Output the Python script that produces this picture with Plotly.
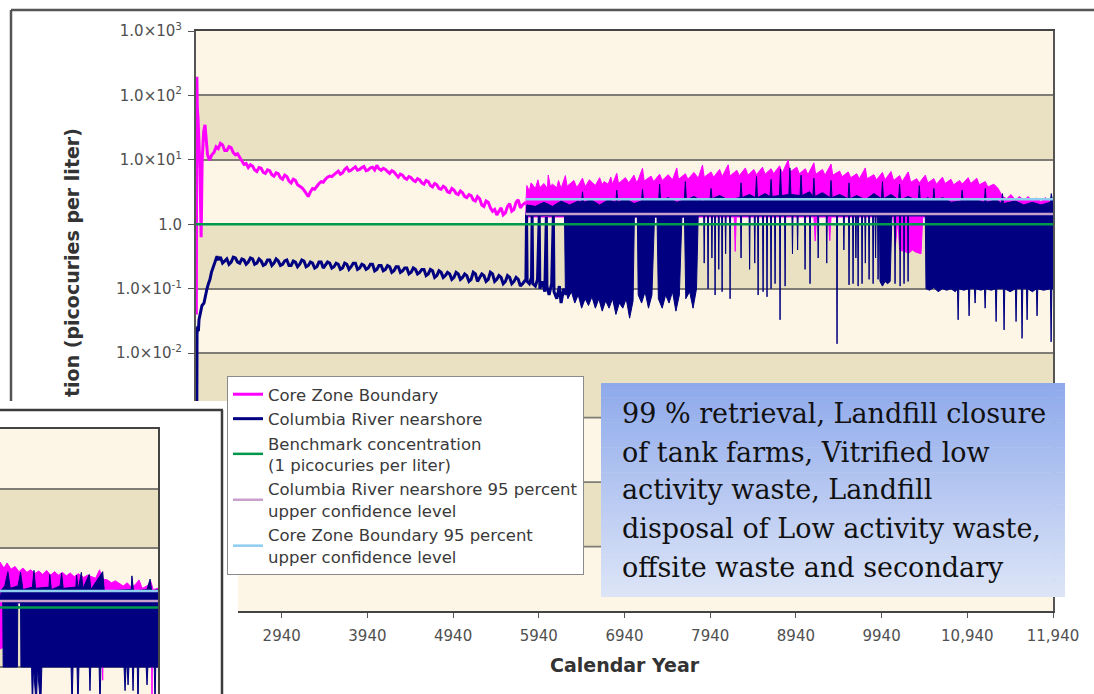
import plotly.graph_objects as go

W, H = 1094, 694

# ---------------- data ----------------
year_ticks = [2940, 3940, 4940, 5940, 6940, 7940, 8940, 9940, 10940, 11940]
year_tick_text = ["2940", "3940", "4940", "5940", "6940", "7940", "8940", "9940", "10,940", "11,940"]
conc_ticks = [1e3, 1e2, 1e1, 1, 1e-1, 1e-2]
conc_tick_text = ["1.0×10<sup>3</sup>", "1.0×10<sup>2</sup>", "1.0×10<sup>1</sup>", "1.0",
                  "1.0×10<sup>-1</sup>", "1.0×10<sup>-2</sup>"]
hidden_decades = [1e-3, 1e-4, 1e-5]

# Core Zone Boundary, years 1940-5790 (year, pCi/L)
core_zone_early = [
    (1944, 0.04), (1950, 195), (1956, 60), (1963, 46), (1972, 25), (1985, 8), (2000, 0.63),
    (2012, 10), (2030, 28), (2045, 35), (2060, 20), (2075, 12), (2090, 10.5),
    (2100, 10), (2125, 12), (2150, 13), (2175, 16), (2200, 15), (2225, 18), (2250, 17),
    (2275, 14), (2300, 14), (2325, 16), (2350, 15.5), (2375, 13), (2400, 12), (2425, 12.5),
    (2450, 11), (2475, 9.5), (2500, 8.5), (2525, 8.8), (2550, 7.6), (2575, 8.4), (2600, 8.0),
    (2625, 7.0), (2650, 6.6), (2675, 7.6), (2700, 7.4), (2725, 6.4), (2750, 6.2), (2775, 7.0),
    (2800, 6.8), (2825, 5.9), (2850, 5.6), (2875, 6.3), (2900, 6.1), (2925, 5.3), (2950, 5.0),
    (2975, 5.8), (3000, 5.5), (3025, 4.7), (3050, 4.4), (3075, 5.0), (3100, 4.8), (3125, 4.1),
    (3150, 3.9), (3175, 3.7), (3200, 3.4), (3225, 3.0), (3250, 2.7), (3275, 3.2), (3300, 3.6),
    (3325, 3.5), (3350, 3.9), (3375, 4.3), (3400, 4.6), (3425, 4.5), (3450, 5.0), (3475, 5.4),
    (3500, 5.6), (3525, 5.5), (3550, 5.9), (3575, 6.4), (3600, 6.7), (3625, 6.0), (3650, 6.3),
    (3675, 7.1), (3700, 7.6), (3725, 6.7), (3750, 6.9), (3775, 7.4), (3800, 7.8), (3825, 6.9),
    (3850, 7.1), (3875, 7.6), (3900, 7.9), (3925, 6.8), (3950, 7.0), (3975, 7.5), (4000, 7.7),
    (4025, 7.0), (4050, 8.2), (4075, 7.3), (4100, 6.9), (4125, 7.4), (4150, 7.1), (4175, 6.6),
    (4200, 6.2), (4225, 6.8), (4250, 6.5), (4275, 5.9), (4300, 5.4), (4325, 6.0), (4350, 5.8),
    (4375, 5.2), (4400, 5.0), (4425, 5.5), (4450, 5.3), (4475, 4.8), (4500, 4.6), (4525, 5.1),
    (4550, 4.9), (4575, 4.4), (4600, 4.2), (4625, 4.8), (4650, 4.6), (4675, 4.0), (4700, 3.8),
    (4725, 4.3), (4750, 4.1), (4775, 3.6), (4800, 3.5), (4825, 3.9), (4850, 3.7), (4875, 3.2),
    (4900, 3.1), (4925, 3.6), (4950, 3.4), (4975, 3.0), (5000, 2.9), (5025, 3.3), (5050, 3.1),
    (5075, 2.7), (5100, 2.6), (5125, 2.9), (5150, 2.8), (5175, 2.4), (5200, 2.3), (5225, 2.7),
    (5250, 2.5), (5275, 2.0), (5300, 1.9), (5325, 2.3), (5350, 2.2), (5375, 1.8), (5400, 1.6),
    (5425, 1.7), (5450, 1.4), (5475, 1.6), (5500, 1.8), (5525, 1.4), (5550, 1.5), (5575, 1.9),
    (5600, 2.1), (5625, 1.6), (5650, 1.7), (5675, 2.2), (5700, 2.4), (5725, 1.8), (5750, 2.0),
    (5790, 2.2),
]

# Core Zone Boundary after 5790: upper and lower edge of the dense band
core_zone_band_top = [
    (5790, 2.2), (5800, 4.0), (5830, 3.3), (5850, 4.4), (5900, 3.6), (5930, 4.9), (5950, 3.7),
    (6000, 4.3), (6040, 3.6), (6050, 5.8), (6075, 3.9), (6100, 4.2), (6150, 3.7), (6170, 4.8),
    (6200, 3.6), (6250, 5.7), (6270, 3.9), (6300, 4.2), (6350, 4.8), (6380, 3.8), (6400, 4.0),
    (6450, 5.2), (6480, 3.9), (6500, 4.2), (6530, 4.9), (6600, 4.0), (6650, 5.3), (6680, 4.1),
    (6700, 4.6), (6750, 4.2), (6780, 5.4), (6800, 4.2), (6850, 6.2), (6870, 4.3), (6900, 4.6),
    (6950, 5.3), (6990, 4.4), (7050, 5.8), (7080, 4.5), (7100, 4.9), (7150, 7.4), (7170, 4.7),
    (7250, 5.6), (7280, 4.6), (7350, 6.0), (7380, 4.8), (7450, 5.9), (7500, 4.9), (7550, 7.5),
    (7570, 5.0), (7650, 6.1), (7680, 5.0), (7750, 6.4), (7800, 5.2), (7850, 8.3), (7870, 5.4),
    (7950, 6.5), (7980, 5.4), (8050, 7.1), (8080, 5.5), (8150, 8.4), (8170, 5.6), (8250, 6.9),
    (8280, 5.7), (8350, 7.5), (8380, 5.8), (8450, 7.1), (8480, 5.9), (8550, 7.7), (8580, 6.0),
    (8650, 7.3), (8680, 6.1), (8750, 8.1), (8780, 6.2), (8850, 10.0), (8870, 6.5),
    (8950, 7.7), (8980, 6.1), (9050, 7.3), (9080, 5.9), (9150, 9.0), (9170, 6.0), (9250, 7.1),
    (9280, 5.8), (9350, 8.6), (9370, 5.8), (9450, 6.7), (9480, 5.5), (9550, 6.5), (9580, 5.3),
    (9650, 6.1), (9680, 5.1), (9750, 7.5), (9770, 5.1), (9850, 5.9), (9880, 4.9), (9950, 6.4),
    (9980, 4.9), (10050, 6.6), (10080, 4.8), (10150, 5.7), (10180, 4.6), (10250, 6.5),
    (10280, 4.5), (10350, 5.1), (10380, 4.4), (10450, 5.8), (10480, 4.4), (10550, 5.1),
    (10580, 4.2), (10650, 5.4), (10680, 4.3), (10750, 5.0), (10780, 4.1), (10850, 4.8),
    (10880, 4.2), (10950, 5.3), (10980, 4.3), (11050, 5.2), (11080, 4.1), (11150, 4.6),
    (11180, 3.8), (11250, 4.2), (11300, 3.6), (11350, 2.7), (11400, 2.5), (11450, 2.9),
    (11500, 2.4), (11550, 2.7), (11600, 2.35), (11650, 2.7), (11700, 2.3), (11750, 2.55),
    (11800, 2.25), (11850, 2.6), (11900, 2.3), (11940, 2.4),
]
core_zone_band_low = [
    (5790, 1.5), (5800, 0.68), (5812, 1.3), (8220, 1.3), (8232, 0.38), (8244, 1.3),
    (9150, 1.3), (9165, 0.55), (9180, 1.3), (9320, 1.3), (9335, 0.56), (9350, 1.3),
    (10080, 1.3), (10100, 0.45), (10130, 1.2), (10150, 0.4), (10200, 0.38), (10260, 0.36),
    (10300, 0.4), (10340, 0.37), (10400, 0.35), (10420, 1.3), (11940, 1.3),
]

# Columbia River nearshore, years 1940-6260
columbia_early = [
    (1941, 5e-7), (1946, 0.017), (1952, 0.02), (1960, 0.026), (1968, 0.022), (1975, 0.033),
    (1985, 0.04), (1998, 0.046), (2010, 0.055), (2033, 0.06), (2050, 0.08), (2068, 0.1),
    (2085, 0.12), (2103, 0.14), (2120, 0.18), (2138, 0.21), (2162, 0.26), (2185, 0.32),
    (2200, 0.28), (2225, 0.31), (2250, 0.25), (2275, 0.27), (2300, 0.29), (2325, 0.24),
    (2350, 0.26), (2375, 0.31), (2400, 0.30), (2425, 0.26), (2450, 0.25), (2475, 0.29),
    (2500, 0.28), (2525, 0.24), (2550, 0.26), (2575, 0.30), (2600, 0.29), (2625, 0.24),
    (2650, 0.25), (2675, 0.29), (2700, 0.27), (2725, 0.23), (2750, 0.24), (2775, 0.28),
    (2800, 0.28), (2825, 0.23), (2850, 0.25), (2875, 0.29), (2900, 0.27), (2925, 0.23),
    (2950, 0.24), (2975, 0.27), (3000, 0.28), (3025, 0.23), (3050, 0.23), (3075, 0.27),
    (3100, 0.26), (3125, 0.22), (3150, 0.24), (3175, 0.28), (3200, 0.27), (3225, 0.22),
    (3250, 0.23), (3275, 0.26), (3300, 0.25), (3325, 0.21), (3350, 0.22), (3375, 0.26),
    (3400, 0.26), (3425, 0.21), (3450, 0.23), (3475, 0.26), (3500, 0.25), (3525, 0.21),
    (3550, 0.22), (3575, 0.25), (3600, 0.24), (3625, 0.20), (3650, 0.21), (3675, 0.25),
    (3700, 0.24), (3725, 0.20), (3750, 0.22), (3775, 0.25), (3800, 0.25), (3825, 0.20),
    (3850, 0.21), (3875, 0.24), (3900, 0.23), (3925, 0.20), (3950, 0.21), (3975, 0.24),
    (4000, 0.24), (4025, 0.19), (4050, 0.20), (4075, 0.23), (4100, 0.23), (4125, 0.19),
    (4150, 0.20), (4175, 0.23), (4200, 0.22), (4225, 0.18), (4250, 0.19), (4275, 0.22),
    (4300, 0.22), (4325, 0.18), (4350, 0.19), (4375, 0.21), (4400, 0.21), (4425, 0.17),
    (4450, 0.18), (4475, 0.21), (4500, 0.20), (4525, 0.17), (4550, 0.18), (4575, 0.20),
    (4600, 0.20), (4625, 0.16), (4650, 0.17), (4675, 0.20), (4700, 0.19), (4725, 0.15),
    (4750, 0.16), (4775, 0.19), (4800, 0.18), (4825, 0.15), (4850, 0.16), (4875, 0.18),
    (4900, 0.17), (4925, 0.14), (4950, 0.15), (4975, 0.18), (5000, 0.17), (5025, 0.14),
    (5050, 0.15), (5075, 0.17), (5100, 0.16), (5125, 0.13), (5150, 0.14), (5175, 0.18),
    (5200, 0.17), (5225, 0.13), (5250, 0.15), (5275, 0.17), (5300, 0.16), (5325, 0.13),
    (5350, 0.14), (5375, 0.18), (5400, 0.17), (5425, 0.13), (5450, 0.14), (5475, 0.16),
    (5500, 0.15), (5525, 0.12), (5550, 0.13), (5575, 0.16), (5600, 0.15), (5625, 0.12),
    (5650, 0.13), (5675, 0.15), (5700, 0.14), (5725, 0.11), (5750, 0.12),
    (5790, 0.14), (5797, 1.4), (5804, 0.13), (5830, 0.12), (5855, 0.15), (5862, 1.35),
    (5869, 0.12), (5900, 0.11), (5925, 0.14), (5945, 1.35), (5952, 0.1), (5980, 0.13),
    (6010, 0.09), (6028, 1.3), (6035, 0.11), (6060, 0.08), (6090, 0.12), (6110, 1.4),
    (6117, 0.09), (6150, 0.07), (6180, 0.11), (6200, 0.06), (6230, 0.1), (6260, 0.08),
]

# Columbia River nearshore after 5790: upper and lower edge of the band of values
columbia_band_top = [
    (5790, 1.4), (5800, 2.0), (5900, 1.9), (6000, 2.2), (6100, 1.9), (6200, 2.3), (6300, 2.0),
    (6400, 2.3), (6438, 2.2), (6450, 3.2), (6462, 2.2), (6550, 2.4), (6650, 2.0), (6750, 2.4),
    (6838, 2.2), (6850, 3.4), (6862, 2.2), (6950, 2.5), (7050, 2.1), (7138, 2.3), (7150, 3.5),
    (7162, 2.3), (7250, 2.5), (7338, 2.3), (7350, 4.2), (7362, 2.3), (7450, 2.6), (7550, 2.2),
    (7638, 2.4), (7650, 4.6), (7662, 2.4), (7750, 2.7), (7850, 2.3), (7938, 2.5), (7950, 3.6),
    (7962, 2.5), (8050, 2.8), (8150, 2.4), (8288, 2.6), (8300, 4.4), (8312, 2.6), (8400, 2.9),
    (8468, 2.6), (8480, 5.5), (8492, 2.6), (8580, 3.0), (8638, 2.7), (8650, 5.0), (8662, 2.7),
    (8748, 2.8), (8760, 7.2), (8772, 2.8), (8858, 2.9), (8870, 7.5), (8882, 2.9), (8988, 2.8),
    (9000, 5.8), (9012, 2.8), (9100, 3.2), (9138, 2.7), (9150, 5.2), (9162, 2.7), (9250, 3.1),
    (9338, 2.6), (9350, 4.8), (9362, 2.6), (9450, 2.9), (9548, 2.5), (9560, 4.4), (9572, 2.5),
    (9650, 2.8), (9750, 2.4), (9850, 3.0), (9938, 2.5), (9950, 4.6), (9962, 2.5), (10050, 2.9),
    (10138, 2.4), (10150, 4.2), (10162, 2.4), (10250, 2.7), (10368, 2.3), (10380, 4.0),
    (10392, 2.3), (10480, 2.6), (10538, 2.3), (10550, 3.6), (10562, 2.3), (10650, 2.6),
    (10750, 2.2), (10868, 2.3), (10880, 3.4), (10892, 2.3), (11000, 2.5), (11138, 2.2),
    (11150, 3.6), (11162, 2.2), (11280, 2.4), (11338, 2.1), (11350, 3.0), (11362, 2.1),
    (11500, 2.3), (11600, 2.0), (11700, 2.2), (11800, 2.0), (11908, 2.2), (11920, 3.0),
    (11932, 2.2), (11940, 2.1),
]
columbia_band_low = [
    (5790, 1.35), (6240, 1.35),
    (6250, 0.1), (6280, 0.07), (6320, 0.09), (6360, 0.06), (6400, 0.08), (6440, 0.05),
    (6480, 0.07), (6520, 0.055), (6560, 0.075), (6600, 0.05), (6640, 0.07), (6680, 0.045),
    (6720, 0.065), (6760, 0.05), (6800, 0.07), (6840, 0.04), (6880, 0.06), (6920, 0.05),
    (6960, 0.07), (7000, 0.035), (7040, 0.065), (7055, 1.3), (7090, 1.3), (7100, 0.08),
    (7140, 0.06), (7180, 0.09), (7220, 0.05), (7260, 0.08), (7290, 1.3), (7320, 1.3),
    (7335, 0.07), (7380, 0.05), (7420, 0.08), (7460, 0.06), (7500, 0.09), (7540, 0.045),
    (7580, 0.08), (7610, 1.3), (7640, 1.3), (7655, 0.07), (7700, 0.09), (7740, 0.05),
    (7780, 0.1), (7800, 1.35),
    (7864, 1.35), (7870, 0.25), (7876, 1.35), (7909, 1.35), (7915, 0.1), (7921, 1.35),
    (7954, 1.35), (7960, 0.3), (7966, 1.35), (7991, 1.35), (7997, 0.08), (8003, 1.35),
    (8034, 1.35), (8040, 0.2), (8046, 1.35), (8073, 1.35), (8079, 0.09), (8085, 1.35),
    (8114, 1.35), (8120, 0.35), (8126, 1.35), (8166, 1.35), (8172, 0.07), (8178, 1.35),
    (8294, 1.35), (8300, 0.3), (8306, 1.35), (8394, 1.35), (8400, 0.2), (8406, 1.35),
    (8454, 1.35), (8460, 0.25), (8466, 1.35), (8493, 1.35), (8499, 0.08), (8505, 1.35),
    (8551, 1.35), (8557, 0.09), (8563, 1.35), (8597, 1.35), (8603, 0.075), (8609, 1.35),
    (8644, 1.35), (8650, 0.1), (8656, 1.35), (8691, 1.35), (8697, 0.12), (8703, 1.35),
    (8749, 1.35), (8755, 0.033), (8761, 1.35), (8808, 1.35), (8814, 0.11), (8820, 1.35),
    (8894, 1.35), (8900, 0.35), (8906, 1.35), (8954, 1.35), (8960, 0.4), (8966, 1.35),
    (9041, 1.35), (9047, 0.2), (9053, 1.35), (9099, 1.35), (9105, 0.12), (9111, 1.35),
    (9194, 1.35), (9200, 0.3), (9206, 1.35), (9294, 1.35), (9300, 0.25), (9306, 1.35),
    (9414, 1.35), (9420, 0.014), (9426, 1.35), (9494, 1.35), (9500, 0.4), (9506, 1.35),
    (9554, 1.35), (9560, 0.115), (9566, 1.35), (9601, 1.35), (9607, 0.12), (9613, 1.35),
    (9634, 1.35), (9640, 0.3), (9646, 1.35), (9660, 1.35), (9666, 0.11), (9672, 1.35),
    (9706, 1.35), (9712, 0.12), (9718, 1.35), (9744, 1.35), (9750, 0.25), (9756, 1.35),
    (9788, 1.35), (9794, 0.14), (9800, 1.35), (9835, 1.35), (9841, 0.12), (9847, 1.35),
    (9864, 1.35), (9870, 0.3), (9876, 1.35), (9893, 1.35), (9899, 0.14), (9905, 1.35),
    (9915, 1.35), (9921, 0.13), (9950, 0.11), (9980, 0.13), (10010, 0.12), (10040, 0.13),
    (10060, 1.35), (10091, 1.35), (10097, 0.12), (10103, 1.35), (10150, 1.35), (10156, 0.11),
    (10162, 1.35), (10196, 1.35), (10202, 0.12), (10208, 1.35), (10243, 1.35), (10249, 0.13),
    (10255, 1.35), (10450, 1.35),
    (10458, 0.1), (10500, 0.095), (10550, 0.105), (10600, 0.09), (10650, 0.1), (10700, 0.095),
    (10750, 0.1), (10800, 0.09), (10825, 0.1), (10833, 0.033), (10841, 0.1), (10900, 0.095),
    (10953, 0.1), (10961, 0.038), (10969, 0.1), (11023, 0.1), (11031, 0.06), (11039, 0.1),
    (11100, 0.095), (11140, 0.1), (11148, 0.05), (11156, 0.1), (11220, 0.095), (11268, 0.1),
    (11276, 0.031), (11284, 0.1), (11361, 0.1), (11369, 0.023), (11377, 0.1), (11440, 0.09),
    (11501, 0.1), (11509, 0.031), (11517, 0.1), (11571, 0.1), (11579, 0.017), (11587, 0.1),
    (11630, 0.1), (11638, 0.033), (11646, 0.1), (11700, 0.09), (11746, 0.1), (11754, 0.038),
    (11762, 0.1), (11830, 0.095), (11910, 0.1), (11918, 0.015), (11926, 0.1), (11940, 0.1),
]

benchmark_years = [1940, 11940]
benchmark_vals = [1.0, 1.0]
ucl_years = [5790, 11940]
columbia_ucl_vals = [1.45, 1.45]
core_zone_ucl_vals = [2.45, 2.45]

# ---- inset chart (right end of a second scenario) ----
inset_years = [9940, 11940]
inset_core_top = [
    (9940, 5.8), (9990, 4.6), (10030, 5.6), (10080, 4.4), (10130, 4.9), (10180, 4.0),
    (10230, 4.6), (10280, 3.9), (10330, 4.3), (10380, 3.7), (10430, 4.1), (10480, 3.6),
    (10530, 4.2), (10580, 3.5), (10630, 4.0), (10680, 3.5), (10730, 3.9), (10780, 3.4),
    (10830, 3.8), (10880, 3.3), (10930, 3.7), (11000, 3.2), (11050, 3.5), (11100, 3.3),
    (11150, 3.1), (11200, 4.3), (11240, 3.0), (11300, 2.9), (11350, 2.6), (11400, 2.8),
    (11450, 2.5), (11500, 2.3), (11550, 2.6), (11600, 2.2), (11650, 2.4), (11700, 2.9),
    (11740, 2.1), (11800, 2.3), (11850, 2.7), (11880, 2.0), (11940, 2.1),
]
inset_core_low = [
    (9940, 0.2), (10000, 0.22), (10010, 1.2), (10100, 1.2), (10105, 0.21), (10112, 1.2),
    (10400, 1.2), (10408, 0.1), (10416, 1.2), (10530, 1.2), (10535, 0.3), (10542, 1.2),
    (10605, 1.2), (10611, 0.2), (10618, 1.2), (11225, 1.2), (11240, 0.06), (11255, 1.2),
    (11855, 1.2), (11864, 0.02), (11873, 1.2), (11940, 1.2),
]
inset_columbia_top = [
    (9940, 1.4), (9960, 2.0), (10000, 2.3), (10040, 4.0), (10070, 2.1), (10168, 2.3),
    (10200, 3.9), (10230, 2.0), (10350, 2.2), (10370, 4.2), (10390, 2.1), (10560, 2.2),
    (10570, 3.6), (10590, 2.0), (10700, 2.3), (10720, 3.8), (10740, 2.1), (10900, 2.2),
    (10910, 3.5), (10930, 2.0), (10970, 3.9), (10990, 2.1), (11070, 3.6), (11090, 2.0),
    (11240, 4.0), (11260, 1.9), (11600, 2.0), (11610, 3.4), (11630, 1.9), (11800, 2.0),
    (11840, 3.0), (11860, 1.9), (11940, 2.0),
]
inset_columbia_low = [
    (9940, 1.3), (9975, 1.3), (9980, 0.1), (10160, 0.1), (10165, 1.2), (10200, 1.2),
    (10205, 0.1), (10340, 0.1), (10350, 0.02), (10365, 0.1), (10400, 0.02), (10415, 0.1),
    (10455, 0.02), (10470, 0.1), (10840, 0.1), (10852, 0.02), (10864, 0.1), (10915, 0.1),
    (10927, 0.02), (10939, 0.1), (11070, 0.1), (11079, 0.04), (11088, 0.1), (11195, 0.1),
    (11206, 0.02), (11217, 0.1), (11510, 0.1), (11523, 0.04), (11536, 0.1), (11550, 0.1),
    (11561, 0.05), (11572, 0.1), (11615, 0.1), (11624, 0.04), (11633, 0.1), (11678, 0.1),
    (11687, 0.02), (11696, 0.1), (11790, 0.1), (11801, 0.05), (11812, 0.1), (11893, 0.1),
    (11902, 0.02), (11911, 0.1), (11940, 0.1),
]
inset_benchmark_vals = [1.0, 1.0]
inset_columbia_ucl_vals = [1.29, 1.29]
inset_core_ucl_vals = [1.89, 1.89]

box_lines = [
    "99 % retrieval, Landfill closure",
    "of tank farms, Vitrified low",
    "activity waste, Landfill",
    "disposal of Low activity waste,",
    "offsite waste and secondary",
]

# ---------------- styles ----------------
MAGENTA = "#FF00FF"
NAVY = "#000080"
GREEN = "#00994C"
LILAC = "#C8A0CC"
SKY = "#8ECDF0"
CREAM = "#FDF6E6"
TAN = "#EAE0C2"
GRID = "#7E7C74"
SANS = "DejaVu Sans"


def xs(pts):
    return [p[0] for p in pts]


def ys(pts):
    return [p[1] for p in pts]


def band(top, low):
    pts = list(top) + list(reversed(low))
    pts.append(top[0])
    return xs(pts), ys(pts)


fig = go.Figure()

# main chart
fig.add_trace(go.Scatter(x=xs(core_zone_early), y=ys(core_zone_early), mode="lines",
                         name="Core Zone Boundary", legendgroup="cz",
                         line=dict(color=MAGENTA, width=3)))
bx, by = band(core_zone_band_top, core_zone_band_low)
fig.add_trace(go.Scatter(x=bx, y=by, mode="lines", fill="toself", fillcolor=MAGENTA,
                         line=dict(color=MAGENTA, width=1), showlegend=False, legendgroup="cz"))
fig.add_trace(go.Scatter(x=xs(columbia_early), y=ys(columbia_early), mode="lines",
                         name="Columbia River nearshore", legendgroup="cr",
                         line=dict(color=NAVY, width=3)))
bx, by = band(columbia_band_top, columbia_band_low)
fig.add_trace(go.Scatter(x=bx, y=by, mode="lines", fill="toself", fillcolor=NAVY,
                         line=dict(color=NAVY, width=1), showlegend=False, legendgroup="cr"))
fig.add_trace(go.Scatter(x=benchmark_years, y=benchmark_vals, mode="lines",
                         name="Benchmark concentration<br>(1 picocuries per liter)",
                         line=dict(color=GREEN, width=2.5)))
fig.add_trace(go.Scatter(x=ucl_years, y=columbia_ucl_vals, mode="lines",
                         name="Columbia River nearshore 95 percent<br>upper confidence level",
                         line=dict(color=LILAC, width=2.5)))
fig.add_trace(go.Scatter(x=ucl_years, y=core_zone_ucl_vals, mode="lines",
                         name="Core Zone Boundary 95 percent<br>upper confidence level",
                         line=dict(color=SKY, width=2.5)))

# frame of the pasted inset (empty subplot whose white background covers the main chart)
fig.add_trace(go.Scatter(x=[], y=[], xaxis="x2", yaxis="y2", showlegend=False))

# inset chart
bx, by = band(inset_core_top, inset_core_low)
fig.add_trace(go.Scatter(x=bx, y=by, xaxis="x3", yaxis="y3", mode="lines", fill="toself",
                         fillcolor=MAGENTA, line=dict(color=MAGENTA, width=1), showlegend=False))
bx, by = band(inset_columbia_top, inset_columbia_low)
fig.add_trace(go.Scatter(x=bx, y=by, xaxis="x3", yaxis="y3", mode="lines", fill="toself",
                         fillcolor=NAVY, line=dict(color=NAVY, width=1), showlegend=False))
fig.add_trace(go.Scatter(x=inset_years, y=inset_benchmark_vals, xaxis="x3", yaxis="y3",
                         mode="lines", line=dict(color=GREEN, width=2.5), showlegend=False))
fig.add_trace(go.Scatter(x=inset_years, y=inset_columbia_ucl_vals, xaxis="x3", yaxis="y3",
                         mode="lines", line=dict(color=LILAC, width=2.5), showlegend=False))
fig.add_trace(go.Scatter(x=inset_years, y=inset_core_ucl_vals, xaxis="x3", yaxis="y3",
                         mode="lines", line=dict(color=SKY, width=2.5), showlegend=False))

shapes = []
# background bands, main chart
shapes.append(dict(type="rect", xref="x", yref="y", x0=1900, x1=12000, y0=1e-7, y1=1e4,
                   fillcolor=CREAM, line=dict(width=0), layer="below"))
for lo, hi in [(1e1, 1e2), (1e-1, 1), (1e-3, 1e-2), (1e-5, 1e-4)]:
    shapes.append(dict(type="rect", xref="x", yref="y", x0=1900, x1=12000, y0=lo, y1=hi,
                       fillcolor=TAN, line=dict(width=0), layer="below"))
for d in hidden_decades:
    shapes.append(dict(type="line", xref="x", yref="y", x0=1900, x1=12000, y0=d, y1=d,
                       line=dict(color=GRID, width=1.8), layer="below"))
# background bands, inset
shapes.append(dict(type="rect", xref="x3", yref="y3", x0=9000, x1=12500, y0=1e-3, y1=1e4,
                   fillcolor=CREAM, line=dict(width=0), layer="below"))
for lo, hi in [(1e1, 1e2), (1e-1, 1)]:
    shapes.append(dict(type="rect", xref="x3", yref="y3", x0=9000, x1=12500, y0=lo, y1=hi,
                       fillcolor=TAN, line=dict(width=0), layer="below"))


def px(x):
    return x / W


def py(y):
    return 1 - y / H


# slide frame lines
shapes.append(dict(type="line", xref="paper", yref="paper", x0=px(11), x1=px(1094),
                   y0=py(10), y1=py(10), line=dict(color="#555555", width=2.5), layer="above"))
shapes.append(dict(type="line", xref="paper", yref="paper", x0=px(11), x1=px(11),
                   y0=py(10), y1=py(401), line=dict(color="#555555", width=2.5), layer="above"))
# inset frame
shapes.append(dict(type="line", xref="paper", yref="paper", x0=px(0), x1=px(223),
                   y0=py(410), y1=py(410), line=dict(color="#3c3c3c", width=2.5), layer="above"))
shapes.append(dict(type="line", xref="paper", yref="paper", x0=px(222), x1=px(222),
                   y0=py(410), y1=py(694), line=dict(color="#3c3c3c", width=2.5), layer="above"))

# gradient text box
top_c = (142, 169, 235)
bot_c = (221, 229, 247)
n = 60
bx0, bx1, by0, by1 = 601, 1065, 383, 597
for i in range(n):
    t = (i + 0.5) / n
    c = tuple(round(top_c[k] + (bot_c[k] - top_c[k]) * t) for k in range(3))
    ya = by0 + (by1 - by0) * i / n
    yb = min(by1, by0 + (by1 - by0) * (i + 1) / n + 0.6)
    shapes.append(dict(type="rect", xref="paper", yref="paper", x0=px(bx0), x1=px(bx1),
                       y0=py(yb), y1=py(ya), fillcolor="rgb(%d,%d,%d)" % c,
                       line=dict(width=0), layer="above"))

annotations = []
line_centres = [413, 452, 490, 528, 567]
for txt, yc in zip(box_lines, line_centres):
    annotations.append(dict(text=txt, xref="paper", yref="paper", x=px(620), y=py(yc),
                            xanchor="left", yanchor="middle", showarrow=False,
                            font=dict(family="DejaVu Serif", size=27, color="#111111")))
annotations.append(dict(text="<b>Calendar Year</b>", xref="paper", yref="paper",
                        x=px(625), y=py(665), xanchor="center", yanchor="middle",
                        showarrow=False, font=dict(family=SANS, size=19, color="#333333")))
annotations.append(dict(text="<b>tion (picocuries per liter)</b>", xref="paper", yref="paper",
                        x=px(72), y=py(263), xanchor="center", yanchor="middle",
                        textangle=-90, showarrow=False,
                        font=dict(family=SANS, size=19, color="#333333")))

fig.update_layout(
    width=W, height=H, margin=dict(l=0, r=0, t=0, b=0, pad=0), autosize=False,
    paper_bgcolor="white", plot_bgcolor="white",
    showlegend=True,
    legend=dict(x=px(227), y=py(376), xanchor="left", yanchor="top",
                bgcolor="white", bordercolor="#8a8a8a", borderwidth=1,
                font=dict(family=SANS, size=16.5, color="#3a3a3a"),
                itemwidth=30, traceorder="normal", tracegroupgap=4),
    xaxis=dict(domain=[px(196), px(1053)], range=[1940, 11940], automargin=False,
               tickvals=year_ticks, ticktext=year_tick_text,
               ticks="outside", ticklen=5, tickwidth=1, tickcolor="#555555",
               ticklabelstandoff=5,
               tickfont=dict(family=SANS, size=15, color="#505050"),
               showline=True, linecolor="#444444", linewidth=2, mirror=True,
               showgrid=False, zeroline=False, anchor="y"),
    yaxis=dict(type="log", domain=[py(611), py(31)], range=[-6, 3], automargin=False,
               tickvals=conc_ticks, ticktext=conc_tick_text,
               ticks="outside", ticklen=6, tickwidth=1, tickcolor="#555555",
               ticklabelstandoff=3,
               tickfont=dict(family=SANS, size=15, color="#505050"),
               showline=True, linecolor="#555555", linewidth=2, mirror=True,
               showgrid=True, gridcolor=GRID, gridwidth=1.8, zeroline=False, anchor="x"),
    xaxis2=dict(domain=[0, px(238)], anchor="y2", showgrid=False, zeroline=False,
                automargin=False, showticklabels=False, ticks="", showline=False),
    yaxis2=dict(domain=[0, py(401)], anchor="x2", showgrid=False, zeroline=False,
                automargin=False, showticklabels=False, ticks="", showline=False),
    xaxis3=dict(domain=[0, px(158)], range=[9940, 11940], anchor="y3", showgrid=False,
                automargin=False, zeroline=False, showticklabels=False, ticks="",
                showline=True, linecolor="#444444", linewidth=1.5, mirror=True),
    yaxis3=dict(type="log", domain=[0, py(429)], range=[-1.454, 3], anchor="x3",
                automargin=False,
                tickvals=[1e3, 1e2, 1e1, 1, 1e-1], showticklabels=False, ticks="",
                showgrid=True, gridcolor=GRID, gridwidth=1.8, zeroline=False,
                showline=True, linecolor="#444444", linewidth=1.5, mirror=True),
    shapes=shapes, annotations=annotations,
)

fig.write_html(
    "out.html",
    post_script="document.body.style.margin='0px';document.documentElement.style.overflow='hidden';document.body.style.overflow='hidden';",
)
